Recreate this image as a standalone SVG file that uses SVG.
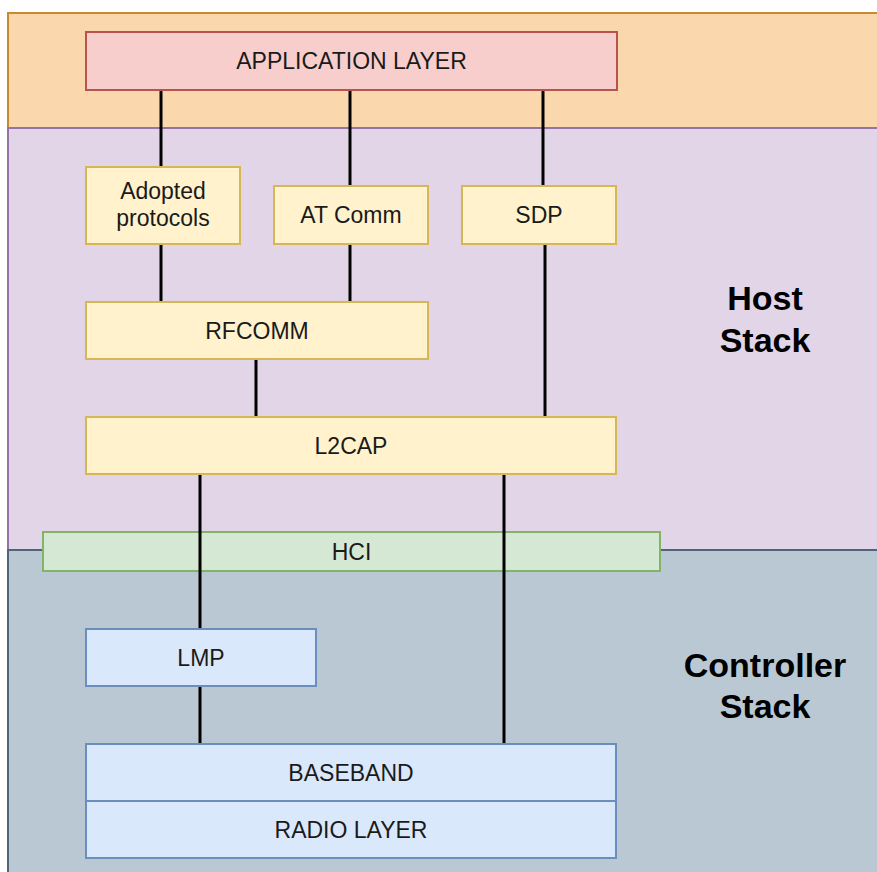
<svg xmlns="http://www.w3.org/2000/svg" width="877" height="872" viewBox="0 0 877 872">
  <style>
    text { font-family: "Liberation Sans", Arial, sans-serif; font-size: 23px; fill: #1a1a1a; text-anchor: middle; }
    .big { font-size: 34px; font-weight: bold; fill: #000; }
    .app { fill: #f8cecc; stroke: #b85450; stroke-width: 2; }
    .host { fill: #fff2cc; stroke: #d6b656; stroke-width: 2; }
    .hci { fill: #d5e8d4; stroke: #82b366; stroke-width: 2; }
    .ctl { fill: #dae8fc; stroke: #6c8ebf; stroke-width: 2; }
    .conn line { stroke: #000; stroke-width: 3; }
  </style>
  <rect width="877" height="872" fill="#ffffff"/>
  <g id="band-app">
    <rect x="8" y="13" width="880" height="115" fill="#fad7ac" stroke="#c98a2e" stroke-width="2"/>
  </g>
  <g id="band-host">
    <rect x="8" y="128" width="880" height="422" fill="#e1d5e7" stroke="#9673a6" stroke-width="2"/>
    <text class="big" x="765" y="310">Host</text>
    <text class="big" x="765" y="352">Stack</text>
  </g>
  <g id="band-controller">
    <rect x="8" y="550" width="880" height="340" fill="#bac8d3" stroke="#4f6578" stroke-width="2"/>
    <text class="big" x="765" y="677">Controller</text>
    <text class="big" x="765" y="718">Stack</text>
  </g>
  <g id="application-layer">
    <rect class="app" x="86" y="32" width="531" height="58"/>
    <text x="351.5" y="69">APPLICATION LAYER</text>
  </g>
  <g id="adopted-protocols">
    <rect class="host" x="86" y="167" width="154" height="77"/>
    <text x="163" y="199">Adopted</text>
    <text x="163" y="226">protocols</text>
  </g>
  <g id="at-comm">
    <rect class="host" x="274" y="186" width="154" height="58"/>
    <text x="351" y="223">AT Comm</text>
  </g>
  <g id="sdp">
    <rect class="host" x="462" y="186" width="154" height="58"/>
    <text x="539" y="223">SDP</text>
  </g>
  <g id="rfcomm">
    <rect class="host" x="86" y="302" width="342" height="57"/>
    <text x="257" y="338.5">RFCOMM</text>
  </g>
  <g id="l2cap">
    <rect class="host" x="86" y="417" width="530" height="57"/>
    <text x="351" y="454">L2CAP</text>
  </g>
  <g id="hci">
    <rect class="hci" x="43" y="532" width="617" height="39"/>
    <text x="351.5" y="559.5">HCI</text>
  </g>
  <g id="lmp">
    <rect class="ctl" x="86" y="629" width="230" height="57"/>
    <text x="201" y="665.5">LMP</text>
  </g>
  <g id="baseband">
    <rect class="ctl" x="86" y="744" width="530" height="57"/>
    <text x="351" y="780.5">BASEBAND</text>
  </g>
  <g id="radio-layer">
    <rect class="ctl" x="86" y="801" width="530" height="57"/>
    <text x="351" y="837.5">RADIO LAYER</text>
  </g>
  <g class="conn" id="connectors">
    <line x1="161" y1="91" x2="161" y2="166"/>
    <line x1="350" y1="91" x2="350" y2="185"/>
    <line x1="543" y1="91" x2="543" y2="185"/>
    <line x1="161" y1="245" x2="161" y2="301"/>
    <line x1="350" y1="245" x2="350" y2="301"/>
    <line x1="256" y1="360" x2="256" y2="416"/>
    <line x1="545" y1="245" x2="545" y2="416"/>
    <line x1="200" y1="475" x2="200" y2="628"/>
    <line x1="504" y1="475" x2="504" y2="743"/>
    <line x1="200" y1="687" x2="200" y2="743"/>
  </g>
</svg>
